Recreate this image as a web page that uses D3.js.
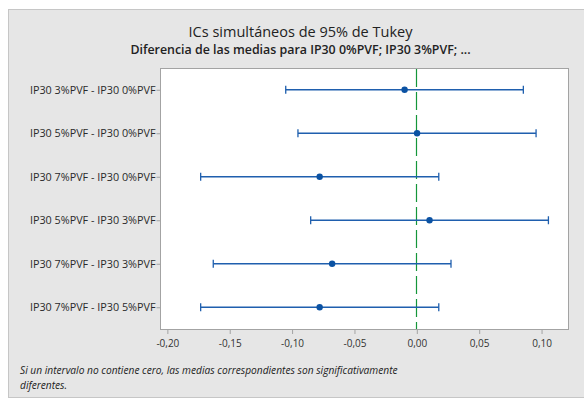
<!DOCTYPE html>
<html>
<head>
<meta charset="utf-8">
<script src="https://cdn.jsdelivr.net/npm/d3@7"></script>
<style>
  html, body { margin: 0; padding: 0; background: #ffffff; }
  svg { display: block; }
</style>
</head>
<body>
<svg id="chart" width="584" height="402"></svg>
<script>
// ---- Data ----
const categories = [
  "IP30 3%PVF - IP30 0%PVF",
  "IP30 5%PVF - IP30 0%PVF",
  "IP30 7%PVF - IP30 0%PVF",
  "IP30 5%PVF - IP30 3%PVF",
  "IP30 7%PVF - IP30 3%PVF",
  "IP30 7%PVF - IP30 5%PVF"
];
const means = [-0.0094, 0.0006, -0.0775, 0.0106, -0.0675, -0.0775];
const lower = [-0.1047, -0.0949, -0.1729, -0.0847, -0.1628, -0.1729];
const upper = [0.0858, 0.0960, 0.0180, 0.1059, 0.0278, 0.0180];
const xTicks = [-0.20, -0.15, -0.10, -0.05, 0.00, 0.05, 0.10];
const titleText = "ICs simultáneos de 95% de Tukey";
const subtitleText = "Diferencia de las medias para IP30 0%PVF; IP30 3%PVF; ...";
const noteLines = [
  "Si un intervalo no contiene cero, las medias correspondientes son significativamente",
  "diferentes."
];

// ---- Layout ----
const svg = d3.select("#chart");
const plot = { left: 160, right: 568, top: 68, bottom: 329 };
const font = "'Open Sans', 'Noto Sans', sans-serif";
const lineColor = "#1f5fae";
const dotColor = "#0b52a3";

// panel background
svg.append("rect")
  .attr("x", 8.5).attr("y", 9.5)
  .attr("width", 600).attr("height", 388)
  .attr("fill", "#e6e6e6")
  .attr("stroke", "#c6c6c6").attr("stroke-width", 1);

// plot area
svg.append("rect")
  .attr("x", plot.left + 0.5).attr("y", plot.top + 0.5)
  .attr("width", plot.right - plot.left).attr("height", plot.bottom - plot.top)
  .attr("fill", "#ffffff")
  .attr("stroke", "#a3a3a3").attr("stroke-width", 1);

const x = d3.scaleLinear().domain([-0.2055, 0.1216]).range([plot.left, plot.right]);
const y = d3.scalePoint().domain(categories).range([plot.top, plot.bottom]).padding(0.5);

const locale = d3.formatLocale({ decimal: ",", thousands: ".", grouping: [3], currency: ["", "€"], minus: "-" });
const fmt = locale.format(".2f");

// x axis
const xAxis = d3.axisBottom(x).tickValues(xTicks).tickFormat(fmt).tickSize(4).tickSizeOuter(0);
const gx = svg.append("g").attr("transform", `translate(0.5,${plot.bottom + 1})`).call(xAxis);
gx.select(".domain").remove();
gx.selectAll(".tick line").attr("stroke", "#a3a3a3");
gx.selectAll(".tick text")
  .attr("fill", "#333").attr("font-family", font).attr("font-size", 10).attr("dy", "0.95em");

// y axis
const yAxis = d3.axisLeft(y).tickSize(4).tickSizeOuter(0);
const gy = svg.append("g").attr("transform", `translate(${plot.left + 0.5},0)`).call(yAxis);
gy.select(".domain").remove();
gy.selectAll(".tick line").attr("stroke", "#a3a3a3");
gy.selectAll(".tick text")
  .attr("fill", "#2a2a2a").attr("font-family", font).attr("font-size", 10.8).attr("x", -5);

// zero reference line
svg.append("line")
  .attr("x1", Math.round(x(0)) + 0.5).attr("x2", Math.round(x(0)) + 0.5)
  .attr("y1", plot.top + 1).attr("y2", plot.bottom)
  .attr("stroke", "#14963a").attr("stroke-width", 1.2)
  .attr("stroke-dasharray", "18,5");

// intervals
const rows = categories.map((c, i) => ({ c, m: means[i], lo: lower[i], hi: upper[i] }));
const g = svg.append("g");
const rg = g.selectAll("g.row").data(rows).join("g").attr("class", "row");
rg.append("line")
  .attr("x1", d => x(d.lo)).attr("x2", d => x(d.hi))
  .attr("y1", d => y(d.c)).attr("y2", d => y(d.c))
  .attr("stroke", lineColor).attr("stroke-width", 1.3);
rg.append("line")
  .attr("x1", d => x(d.lo)).attr("x2", d => x(d.lo))
  .attr("y1", d => y(d.c) - 4).attr("y2", d => y(d.c) + 4)
  .attr("stroke", lineColor).attr("stroke-width", 1.3);
rg.append("line")
  .attr("x1", d => x(d.hi)).attr("x2", d => x(d.hi))
  .attr("y1", d => y(d.c) - 4).attr("y2", d => y(d.c) + 4)
  .attr("stroke", lineColor).attr("stroke-width", 1.3);
rg.append("circle")
  .attr("cx", d => x(d.m)).attr("cy", d => y(d.c)).attr("r", 3.2)
  .attr("fill", dotColor);

// titles
svg.append("text")
  .attr("x", 300.5).attr("y", 37).attr("text-anchor", "middle")
  .attr("font-family", font).attr("font-size", 14.5).attr("fill", "#222")
  .text(titleText);
svg.append("text")
  .attr("x", 300.5).attr("y", 54).attr("text-anchor", "middle")
  .attr("font-family", font).attr("font-size", 12.4).attr("font-weight", 600).attr("fill", "#222")
  .text(subtitleText);

// footnote
svg.selectAll("text.note").data(noteLines).join("text")
  .attr("class", "note")
  .attr("x", 20).attr("y", (d, i) => 374 + i * 15)
  .attr("font-family", font).attr("font-size", 10.2).attr("font-style", "italic").attr("fill", "#222")
  .text(d => d);
</script>
</body>
</html>
